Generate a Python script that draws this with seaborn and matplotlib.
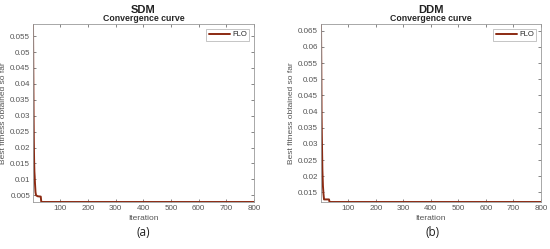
import pandas as pd
import numpy as np
import matplotlib
matplotlib.use("Agg")
import matplotlib.pyplot as plt
import seaborn as sns

# Convergence data (breakpoints of the best-so-far curves)
sdm_iter = [1, 2, 3, 4, 5, 6, 7, 8, 10, 12, 18, 29, 31, 800]
sdm_fit = [0.0588, 0.045, 0.032, 0.022, 0.016, 0.0125, 0.011, 0.009, 0.006,
           0.0050, 0.0047, 0.0046, 0.0029, 0.0029]

ddm_iter = [1, 2, 3, 4, 6, 8, 10, 12, 30, 32, 800]
ddm_fit = [0.0671, 0.055, 0.040, 0.033, 0.022, 0.017, 0.0145, 0.0128, 0.0128,
           0.0120, 0.0120]

sdm_ticks = [0.005, 0.01, 0.015, 0.02, 0.025, 0.03, 0.035, 0.04, 0.045, 0.05, 0.055]
ddm_ticks = [0.015, 0.02, 0.025, 0.03, 0.035, 0.04, 0.045, 0.05, 0.055, 0.06, 0.065]
x_ticks = [100, 200, 300, 400, 500, 600, 700, 800]

sns.set_style("ticks")
plt.rcParams['font.family'] = ['Liberation Sans', 'DejaVu Sans']

line_color = "#8b2a12"
axis_color = "#555555"

fig = plt.figure(figsize=(5.5, 2.49), dpi=100)


def panel(rect, iters, fit, yticks, name, tag, tag_x):
    ax = fig.add_axes(rect)
    df = pd.DataFrame({"Iteration": iters, "fit": fit})
    sns.lineplot(data=df, x="Iteration", y="fit", ax=ax, color=line_color,
                 linewidth=1.4, label="FLO")
    ax.set_xlim(1, 800)
    ax.set_ylim(min(fit), max(fit))
    ax.set_xticks(x_ticks)
    ax.set_yticks(yticks)
    ax.set_yticklabels([f"{t:g}" for t in yticks])
    ax.tick_params(direction="in", length=2, width=0.5, labelsize=5.8,
                   colors=axis_color, top=True, right=True, pad=2)
    for s in ax.spines.values():
        s.set_color("#9a9a9a")
        s.set_linewidth(0.6)
    ax.set_xlabel("Iteration", fontsize=6, color=axis_color, labelpad=2)
    ax.set_ylabel("Best fitness obtained so far", fontsize=6,
                  color=axis_color, labelpad=2)
    ax.set_title("Convergence curve", fontsize=6.3, fontweight="bold", pad=2)
    leg = ax.legend(loc="upper right", fontsize=5.5, frameon=True,
                    fancybox=False, handlelength=2.8, borderpad=0.3,
                    handletextpad=0.3, borderaxespad=0.6)
    leg.get_frame().set_edgecolor("#9a9a9a")
    leg.get_frame().set_linewidth(0.5)
    cx = rect[0] + rect[2] / 2
    fig.text(cx, 1 - 10 / 249, name, ha="center", va="center",
             fontsize=8, fontweight="bold", color="#222222")
    fig.text(tag_x, 1 - 232 / 249, tag, ha="center", va="center",
             fontsize=8.5, color="#222222", family=["Open Sans", "DejaVu Sans"])
    return ax


panel([33 / 550, 1 - 202 / 249, 221 / 550, 178 / 249],
      sdm_iter, sdm_fit, sdm_ticks, "SDM", "(a)", 143 / 550)
panel([321 / 550, 1 - 202 / 249, 220 / 550, 178 / 249],
      ddm_iter, ddm_fit, ddm_ticks, "DDM", "(b)", 433 / 550)

fig.savefig("out.png", dpi=100)
